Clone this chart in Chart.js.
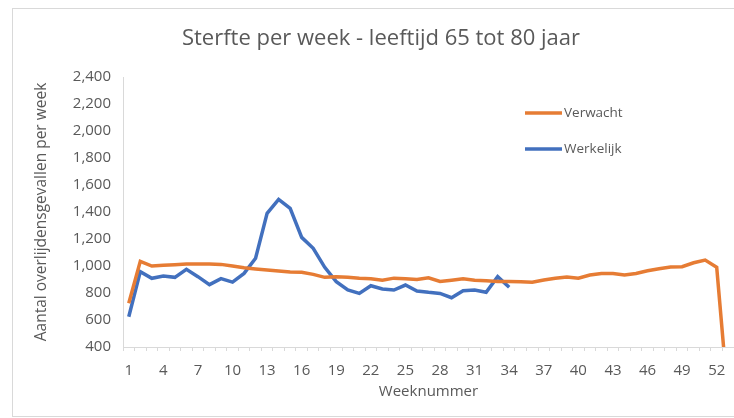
<!DOCTYPE html>
<html>
<head>
<meta charset="utf-8">
<script src="https://cdn.jsdelivr.net/npm/chart.js@4/dist/chart.umd.min.js"></script>
<style>
    html, body { margin: 0; padding: 0; background: #ffffff; }
    #wrap { position: relative; width: 734px; height: 418px; }
</style>
</head>
<body>
<div id="wrap"><canvas id="sterfte"></canvas></div>
<script>
// Week numbers (week 53 only carries the drop of the expected line)
const weeks = [];
for (let w = 1; w <= 53; w++) weeks.push(String(w));

// Expected deaths per week (Verwacht)
const verwacht = [
    724, 1035, 1000, 1005, 1010, 1015, 1015, 1015, 1012, 1000,
    987, 978, 970, 963, 956, 953, 938, 916, 921, 916,
    909, 905, 895, 910, 905, 900, 912, 885, 895, 905,
    895, 890, 885, 885, 884, 879, 896, 909, 919, 909,
    933, 945, 945, 933, 945, 965, 980, 993, 995, 1024,
    1044, 990, 0
];

// Actual deaths per week (Werkelijk), known up to week 34
const werkelijk = [
    624, 958, 909, 926, 916, 975, 921, 862, 906, 881,
    945, 1057, 1390, 1494, 1427, 1212, 1131, 990, 884, 822,
    797, 854, 830, 822, 859, 815, 805, 797, 765, 817,
    822, 805, 921, 842
];

const yMin = 400;
const yMax = 2400;
const yStep = 200;

const textColor = '#595959';
const fontFamily = '"Open Sans", Lato, sans-serif';

// White background and thin frame around the chart
const framePlugin = {
    id: 'frame',
    beforeDraw(chart) {
        const ctx = chart.ctx;
        ctx.save();
        ctx.fillStyle = '#ffffff';
        ctx.fillRect(0, 0, chart.width, chart.height);
        ctx.strokeStyle = '#d9d9d9';
        ctx.lineWidth = 1;
        ctx.strokeRect(12.5, 8.5, chart.width + 10, chart.height - 10);
        ctx.restore();
    }
};

// Legend drawn inside the plot, right of centre
const legendPlugin = {
    id: 'insideLegend',
    afterDatasetsDraw(chart) {
        const ctx = chart.ctx;
        ctx.save();
        ctx.font = '13.5px ' + fontFamily;
        ctx.textBaseline = 'middle';
        const rows = [113, 149];
        chart.data.datasets.forEach((ds, i) => {
            const y = rows[i];
            ctx.strokeStyle = ds.borderColor;
            ctx.lineWidth = 3.5;
            ctx.beginPath();
            ctx.moveTo(525, y);
            ctx.lineTo(562, y);
            ctx.stroke();
            ctx.fillStyle = textColor;
            ctx.fillText(ds.label, 564, y);
        });
        ctx.restore();
    }
};

const ctx = document.getElementById('sterfte').getContext('2d');
new Chart(ctx, {
    type: 'line',
    data: {
        labels: weeks,
        datasets: [{
            label: 'Verwacht',
            data: verwacht,
            borderColor: '#E67C34',
            borderWidth: 3.5,
            pointRadius: 0,
            tension: 0,
            clip: 0
        }, {
            label: 'Werkelijk',
            data: werkelijk,
            borderColor: '#4270BE',
            borderWidth: 3.5,
            pointRadius: 0,
            tension: 0,
            clip: 0
        }]
    },
    options: {
        responsive: true,
        maintainAspectRatio: false,
        animation: false,
        layout: {
            padding: { left: 28, top: 0, right: 0, bottom: 0 }
        },
        plugins: {
            legend: { display: false },
            tooltip: { enabled: false },
            title: {
                display: true,
                text: 'Sterfte per week - leeftijd 65 tot 80 jaar',
                color: textColor,
                font: { family: fontFamily, size: 22, weight: 'normal' },
                padding: { top: 26, bottom: 24.6 }
            }
        },
        scales: {
            x: {
                offset: true,
                grid: {
                    offset: true,
                    drawOnChartArea: false,
                    drawTicks: true,
                    tickLength: 4,
                    color: '#d9d9d9'
                },
                border: { display: true, color: '#d9d9d9' },
                ticks: {
                    autoSkip: false,
                    maxRotation: 0,
                    padding: 11,
                    color: textColor,
                    font: { family: fontFamily, size: 15 },
                    callback: function(value, index) {
                        return index % 3 === 0 ? this.getLabelForValue(value) : '';
                    }
                },
                title: {
                    display: true,
                    text: 'Weeknummer',
                    color: textColor,
                    font: { family: fontFamily, size: 15 },
                    padding: { top: 0, bottom: 17 }
                },
                afterFit(scale) {
                    scale.height = 71;
                    scale.paddingLeft = 0;
                    scale.paddingRight = 0;
                }
            },
            y: {
                min: yMin,
                max: yMax,
                grid: { display: false, drawTicks: false },
                border: { display: true, color: '#d9d9d9' },
                ticks: {
                    stepSize: yStep,
                    padding: 12,
                    color: textColor,
                    font: { family: fontFamily, size: 15 },
                    callback: v => v.toLocaleString('en-US')
                },
                title: {
                    display: true,
                    text: 'Aantal overlijdensgevallen per week',
                    color: textColor,
                    font: { family: fontFamily, size: 15.5 },
                    padding: { top: 4, bottom: 0 }
                },
                afterFit(scale) { scale.width = 95; }
            }
        }
    },
    plugins: [framePlugin, legendPlugin]
});
</script>
</body>
</html>
